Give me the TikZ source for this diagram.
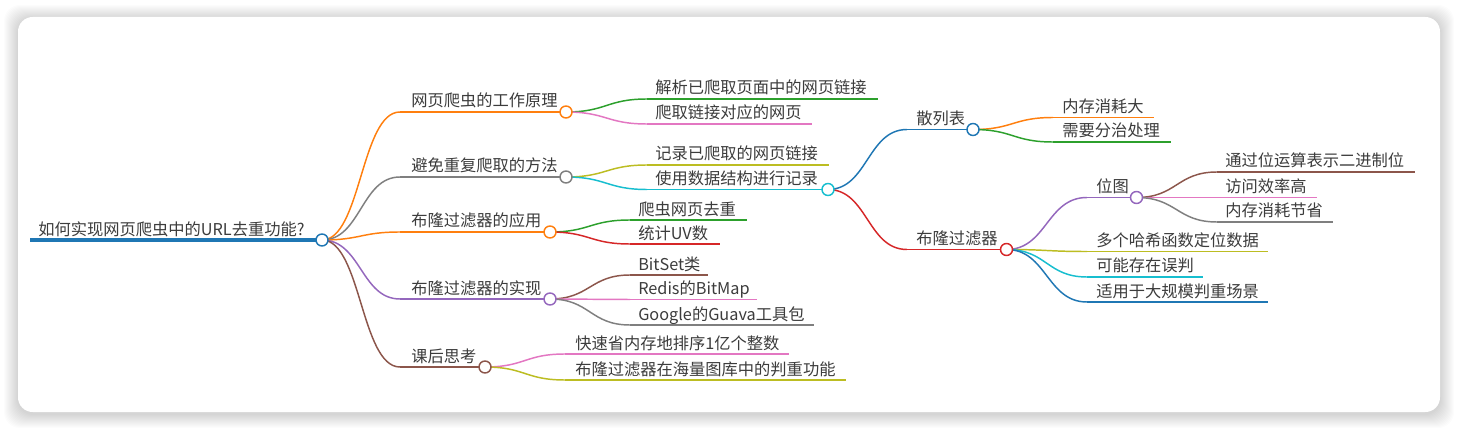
\documentclass[tikz,border=0pt]{standalone}
\usepackage{fontspec}
\setmainfont{Noto Sans CJK SC}
\usetikzlibrary{calc}

\definecolor{mmBlue}{HTML}{1F77B4}
\definecolor{mmOrange}{HTML}{FF7F0E}
\definecolor{mmGreen}{HTML}{2CA02C}
\definecolor{mmRed}{HTML}{D62728}
\definecolor{mmPurple}{HTML}{9467BD}
\definecolor{mmBrown}{HTML}{8C564B}
\definecolor{mmPink}{HTML}{E377C2}
\definecolor{mmGray}{HTML}{7F7F7F}
\definecolor{mmOlive}{HTML}{BCBD22}
\definecolor{mmCyan}{HTML}{17BECF}
\definecolor{txtc}{HTML}{3C3C3C}

\begin{document}
\begin{tikzpicture}[x=0.75pt,y=-0.75pt,
	txt/.style={anchor=base west, inner sep=0pt, text=txtc, font=\fontsize{12.2}{14}\selectfont},
	dot/.style={circle, fill=white, line width=1.1pt, inner sep=0pt, minimum size=9pt},
	link/.style={line width=1.1pt},
	branch/.style={to path={let \p1=(\tikztostart), \p2=(\tikztotarget) in
		.. controls (\x1/2+\x2/2,\y1) and (\x1/2+\x2/2,\y2) .. (\tikztotarget)}}]
	% card
	\useasboundingbox (0,0) rectangle (1457,431);
	\fill[white] (0,0) rectangle (1457,431);
	\foreach \d in {1,...,14}
		\fill[black, opacity=0.011, rounded corners=12pt] (18-\d,19-\d) rectangle (1440+\d,414+\d);
	\fill[white, rounded corners=11pt] (18,17) rectangle (1440,412);

	% where each branch starts and ends
	\coordinate (r-in) at (30,240);      \coordinate (r-out) at (322,240);
	\coordinate (a-in) at (400,112);     \coordinate (a-out) at (566,112);
	\coordinate (b-in) at (400,177);     \coordinate (b-out) at (566,177);
	\coordinate (c-in) at (400,232);     \coordinate (c-out) at (550,232);
	\coordinate (d-in) at (400,299);     \coordinate (d-out) at (550,299);
	\coordinate (e-in) at (400,367);     \coordinate (e-out) at (485,367);
	\coordinate (a1-in) at (647,99);     \coordinate (a1-out) at (878,99);
	\coordinate (a2-in) at (647,124);    \coordinate (a2-out) at (812,124);
	\coordinate (b1-in) at (647,165);    \coordinate (b1-out) at (829,165);
	\coordinate (b2-in) at (647,189.5);  \coordinate (b2-out) at (828,189.5);
	\coordinate (c1-in) at (630,220);    \coordinate (c1-out) at (747,220);
	\coordinate (c2-in) at (630,244);    \coordinate (c2-out) at (720,244);
	\coordinate (d1-in) at (630,275);    \coordinate (d1-out) at (708,275);
	\coordinate (d2-in) at (630,299.5);  \coordinate (d2-out) at (757,299.5);
	\coordinate (d3-in) at (630,325);    \coordinate (d3-out) at (814,325);
	\coordinate (e1-in) at (565,354);    \coordinate (e1-out) at (789,354);
	\coordinate (e2-in) at (565,380);    \coordinate (e2-out) at (846,380);
	\coordinate (h-in) at (907,129.5);   \coordinate (h-out) at (973,129.5);
	\coordinate (f-in) at (907,249.5);   \coordinate (f-out) at (1006.5,249.5);
	\coordinate (h1-in) at (1053,117.5); \coordinate (h1-out) at (1154,117.5);
	\coordinate (h2-in) at (1053,142);   \coordinate (h2-out) at (1171,142);
	\coordinate (m-in) at (1087,197.5);  \coordinate (m-out) at (1136.5,197.5);
	\coordinate (f1-in) at (1087,251.5); \coordinate (f1-out) at (1268,251.5);
	\coordinate (f2-in) at (1087,277);   \coordinate (f2-out) at (1203,277);
	\coordinate (f3-in) at (1087,302);   \coordinate (f3-out) at (1268,302);
	\coordinate (m1-in) at (1217,172);   \coordinate (m1-out) at (1415,172);
	\coordinate (m2-in) at (1217,197.5); \coordinate (m2-out) at (1317,197.5);
	\coordinate (m3-in) at (1217,222);   \coordinate (m3-out) at (1333,222);

	% labels
	\node[txt] (r) at (38,235) {如何实现网页爬虫中的URL去重功能?};
	\node[txt] (a) at (411,107) {网页爬虫的工作原理};
	\node[txt] (b) at (411,172) {避免重复爬取的方法};
	\node[txt] (c) at (411,227) {布隆过滤器的应用};
	\node[txt] (d) at (411,294) {布隆过滤器的实现};
	\node[txt] (e) at (411,362) {课后思考};
	\node[txt] (a1) at (655,94) {解析已爬取页面中的网页链接};
	\node[txt] (a2) at (655,119) {爬取链接对应的网页};
	\node[txt] (b1) at (655,160) {记录已爬取的网页链接};
	\node[txt] (b2) at (655,184.5) {使用数据结构进行记录};
	\node[txt] (c1) at (638,215) {爬虫网页去重};
	\node[txt] (c2) at (638,239) {统计UV数};
	\node[txt] (d1) at (638,270) {BitSet类};
	\node[txt] (d2) at (638,294.5) {Redis的BitMap};
	\node[txt] (d3) at (638,320) {Google的Guava工具包};
	\node[txt] (e1) at (575,349) {快速省内存地排序1亿个整数};
	\node[txt] (e2) at (575,375) {布隆过滤器在海量图库中的判重功能};
	\node[txt] (h) at (916,124.5) {散列表};
	\node[txt] (f) at (916,244.5) {布隆过滤器};
	\node[txt] (h1) at (1062,112.5) {内存消耗大};
	\node[txt] (h2) at (1062,137) {需要分治处理};
	\node[txt] (m) at (1096,192.5) {位图};
	\node[txt] (f1) at (1096,246.5) {多个哈希函数定位数据};
	\node[txt] (f2) at (1096,272) {可能存在误判};
	\node[txt] (f3) at (1096,297) {适用于大规模判重场景};
	\node[txt] (m1) at (1225,167) {通过位运算表示二进制位};
	\node[txt] (m2) at (1225,192.5) {访问效率高};
	\node[txt] (m3) at (1225,217) {内存消耗节省};

	% branches
	\draw[mmBlue, line width=2.4pt] (r-in) -- (r-out);
	\path[link] (r-out) edge[branch, mmOrange] (a-in) (a-in) edge[mmOrange] (a-out)
		(r-out) edge[branch, mmGray] (b-in) (b-in) edge[mmGray] (b-out)
		(r-out) edge[branch, mmOrange] (c-in) (c-in) edge[mmOrange] (c-out)
		(r-out) edge[branch, mmPurple] (d-in) (d-in) edge[mmPurple] (d-out)
		(r-out) edge[branch, mmBrown] (e-in) (e-in) edge[mmBrown] (e-out);
	\path[link] (a-out) edge[branch, mmGreen] (a1-in) (a1-in) edge[mmGreen] (a1-out)
		(a-out) edge[branch, mmPink] (a2-in) (a2-in) edge[mmPink] (a2-out)
		(b-out) edge[branch, mmOlive] (b1-in) (b1-in) edge[mmOlive] (b1-out)
		(b-out) edge[branch, mmCyan] (b2-in) (b2-in) edge[mmCyan] (b2-out)
		(c-out) edge[branch, mmGreen] (c1-in) (c1-in) edge[mmGreen] (c1-out)
		(c-out) edge[branch, mmRed] (c2-in) (c2-in) edge[mmRed] (c2-out)
		(d-out) edge[branch, mmBrown] (d1-in) (d1-in) edge[mmBrown] (d1-out)
		(d-out) edge[branch, mmPink] (d2-in) (d2-in) edge[mmPink] (d2-out)
		(d-out) edge[branch, mmGray] (d3-in) (d3-in) edge[mmGray] (d3-out)
		(e-out) edge[branch, mmPink] (e1-in) (e1-in) edge[mmPink] (e1-out)
		(e-out) edge[branch, mmOlive] (e2-in) (e2-in) edge[mmOlive] (e2-out);
	\path[link] (b2-out) edge[branch, mmBlue] (h-in) (h-in) edge[mmBlue] (h-out)
		(b2-out) edge[branch, mmRed] (f-in) (f-in) edge[mmRed] (f-out)
		(h-out) edge[branch, mmOrange] (h1-in) (h1-in) edge[mmOrange] (h1-out)
		(h-out) edge[branch, mmGreen] (h2-in) (h2-in) edge[mmGreen] (h2-out)
		(f-out) edge[branch, mmPurple] (m-in) (m-in) edge[mmPurple] (m-out)
		(f-out) edge[branch, mmOlive] (f1-in) (f1-in) edge[mmOlive] (f1-out)
		(f-out) edge[branch, mmCyan] (f2-in) (f2-in) edge[mmCyan] (f2-out)
		(f-out) edge[branch, mmBlue] (f3-in) (f3-in) edge[mmBlue] (f3-out)
		(m-out) edge[branch, mmBrown] (m1-in) (m1-in) edge[mmBrown] (m1-out)
		(m-out) edge[branch, mmPink] (m2-in) (m2-in) edge[mmPink] (m2-out)
		(m-out) edge[branch, mmGray] (m3-in) (m3-in) edge[mmGray] (m3-out);

	% fold points
	\node[dot, draw=mmBlue] (r-dot) at (r-out) {};
	\node[dot, draw=mmOrange] (a-dot) at (a-out) {};
	\node[dot, draw=mmGray] (b-dot) at (b-out) {};
	\node[dot, draw=mmOrange] (c-dot) at (c-out) {};
	\node[dot, draw=mmPurple] (d-dot) at (d-out) {};
	\node[dot, draw=mmBrown] (e-dot) at (e-out) {};
	\node[dot, draw=mmCyan] (b2-dot) at (b2-out) {};
	\node[dot, draw=mmBlue] (h-dot) at (h-out) {};
	\node[dot, draw=mmRed] (f-dot) at (f-out) {};
	\node[dot, draw=mmPurple] (m-dot) at (m-out) {};
\end{tikzpicture}
\end{document}
